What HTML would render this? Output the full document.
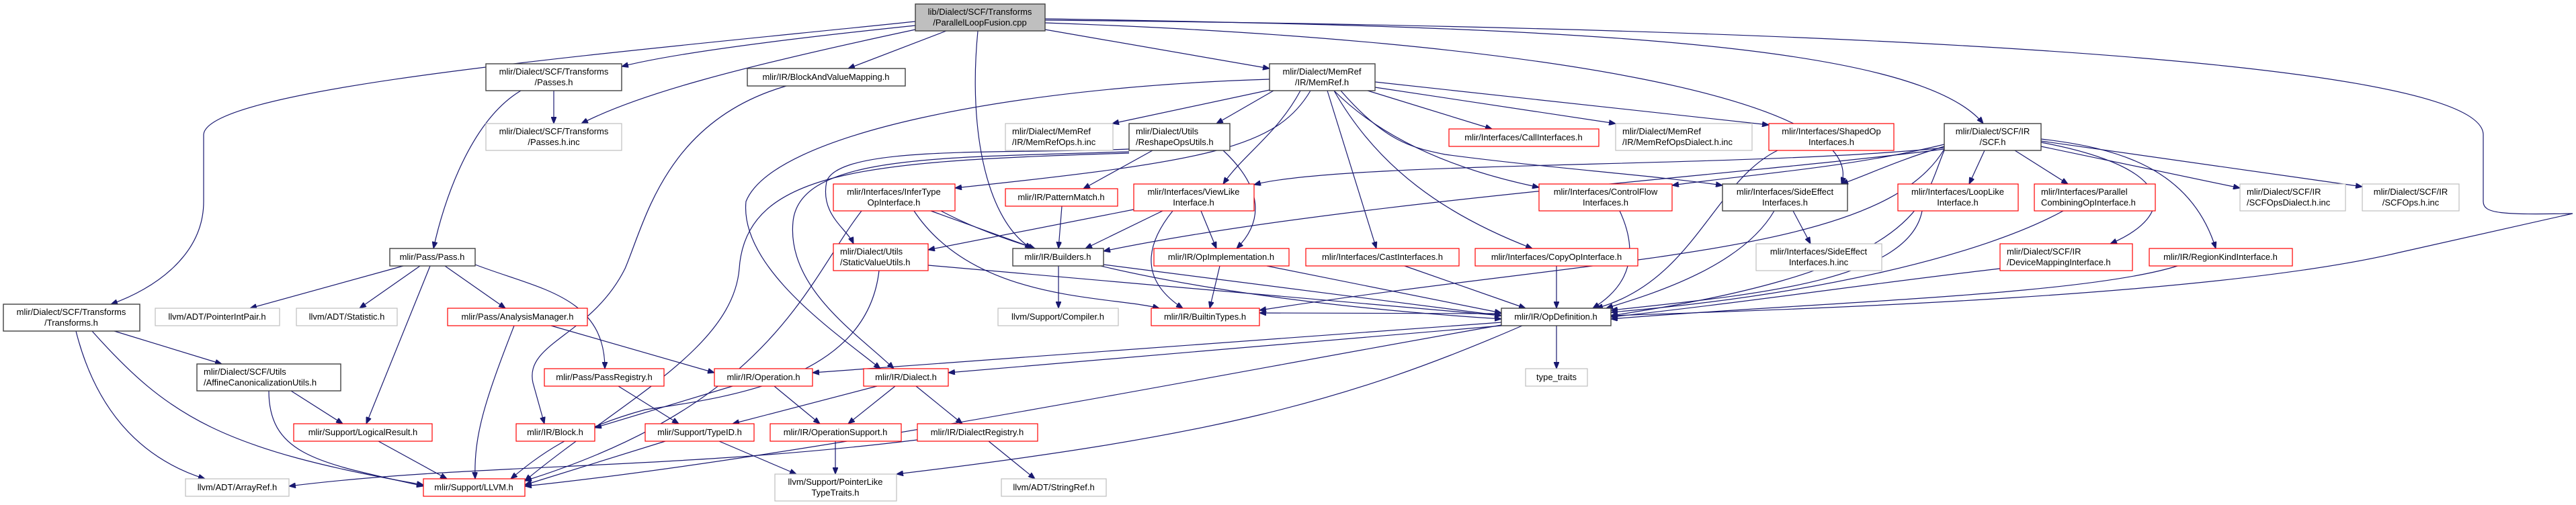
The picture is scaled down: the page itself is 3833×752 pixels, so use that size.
<!DOCTYPE html>
<html><head><meta charset="utf-8"><style>
html,body{margin:0;padding:0;background:#fff;}
svg{display:block;}
text{font-family:"Liberation Sans",sans-serif;font-size:13px;fill:#000;}
.e{fill:none;stroke:#191970;stroke-width:1.2;marker-end:url(#a);}
.b{fill:#fff;stroke:#404040;stroke-width:1.4;}
.r{fill:#fff;stroke:#ff0000;stroke-width:1.2;}
.g{fill:#fff;stroke:#bfbfbf;stroke-width:1.2;}
</style></head><body>
<svg width="3833" height="752" viewBox="0 0 3833 752" xmlns="http://www.w3.org/2000/svg">
<defs><marker id="a" markerUnits="userSpaceOnUse" markerWidth="11" markerHeight="8" refX="10" refY="4" orient="auto"><path d="M0,0 L10,4 L0,8 z" fill="#191970" stroke="#191970"/></marker></defs>
<g>
<path class="e" d="M1362,32 C900,80 310,130 303,200 L303,300 C303,380 230,430 165,453"/>
<path class="e" d="M1362,38 C1150,60 1000,80 925,99"/>
<path class="e" d="M1362,44 C1100,100 950,140 865,184"/>
<path class="e" d="M1408,46 L1262,102"/>
<path class="e" d="M1455,46 C1440,200 1470,330 1535,370"/>
<path class="e" d="M1555,44 L1889,102"/>
<path class="e" d="M1555,28 C2300,40 2850,60 2951,184"/>
<path class="e" d="M1555,34 C2300,60 2780,150 2740,274"/>
<path class="e" d="M1555,30 C2600,40 3690,80 3695,200 L3695,300 C3695,318 3720,320 3828,318 L3570,376 C3300,440 2700,460 2397,470"/>
<path class="e" d="M775,135 C700,180 660,300 645,370"/>
<path class="e" d="M824,135 L824,184"/>
<path class="e" d="M1170,128 C990,180 960,330 930,400 C880,500 780,510 793,570 L810,631"/>
<path class="e" d="M600,396 L372,459"/>
<path class="e" d="M625,396 L535,459"/>
<path class="e" d="M640,396 L545,631"/>
<path class="e" d="M662,396 L752,459"/>
<path class="e" d="M707,394 C800,430 900,440 900,549"/>
<path class="e" d="M170,493 L330,542"/>
<path class="e" d="M113,493 C140,600 200,680 305,713"/>
<path class="e" d="M137,493 C250,620 330,670 630,722"/>
<path class="e" d="M433,582 L510,631"/>
<path class="e" d="M400,582 C400,680 480,690 630,724"/>
<path class="e" d="M563,657 L665,713"/>
<path class="e" d="M765,485 C720,600 705,650 707,713"/>
<path class="e" d="M820,485 L1063,555"/>
<path class="e" d="M920,575 L1010,631"/>
<path class="e" d="M1090,575 L885,637"/>
<path class="e" d="M1152,575 L1220,631"/>
<path class="e" d="M1305,575 L1090,631"/>
<path class="e" d="M1332,575 L1262,631"/>
<path class="e" d="M1363,575 L1432,631"/>
<path class="e" d="M990,657 L781,722"/>
<path class="e" d="M1070,657 L1185,706"/>
<path class="e" d="M1243,657 L1243,706"/>
<path class="e" d="M1365,655 C1000,700 700,690 430,724"/>
<path class="e" d="M1471,657 L1540,713"/>
<path class="e" d="M1308,403 C1290,560 1100,590 960,610 C850,640 800,680 760,713"/>
<path class="e" d="M1381,395 L2234,470"/>
<path class="e" d="M1385,314 L1540,370"/>
<path class="e" d="M1400,314 C1600,420 2000,460 2234,475"/>
<path class="e" d="M1360,314 C1450,450 1650,440 1725,459"/>
<path class="e" d="M1282,314 C1200,420 1150,600 781,716"/>
<path class="e" d="M1715,224 L1612,281"/>
<path class="e" d="M1820,224 C1880,280 1880,330 1840,370"/>
<path class="e" d="M1680,222 C1500,230 1250,215 1230,270 C1220,320 1260,340 1270,363"/>
<path class="e" d="M1680,226 C1400,235 1190,230 1180,330 C1170,430 1280,500 1330,549"/>
<path class="e" d="M1680,228 C1300,240 1110,250 1100,400 C1090,520 920,600 781,716"/>
<path class="e" d="M1580,307 L1575,370"/>
<path class="e" d="M1687,312 L1381,372"/>
<path class="e" d="M1730,314 L1615,370"/>
<path class="e" d="M1787,314 L1810,370"/>
<path class="e" d="M1745,314 C1700,370 1700,420 1760,459"/>
<path class="e" d="M1815,396 L1800,459"/>
<path class="e" d="M1885,396 L2234,466"/>
<path class="e" d="M1575,396 L1575,459"/>
<path class="e" d="M1642,394 L2234,470"/>
<path class="e" d="M2234,480 L1209,555"/>
<path class="e" d="M2234,485 L1411,555"/>
<path class="e" d="M2265,485 C2000,600 1800,650 1334,706"/>
<path class="e" d="M2234,484 C1800,560 1200,680 781,724"/>
<path class="e" d="M2316,485 L2316,549"/>
<path class="e" d="M2234,467 L1874,466"/>
<path class="e" d="M1889,134 L1655,184"/>
<path class="e" d="M1895,135 L1810,184"/>
<path class="e" d="M1935,135 C1900,200 1850,230 1820,274"/>
<path class="e" d="M1950,135 C1900,220 1800,240 1421,280"/>
<path class="e" d="M1889,118 C1500,130 1150,200 1110,300 C1100,400 1250,500 1310,549"/>
<path class="e" d="M2035,135 L2220,192"/>
<path class="e" d="M2046,130 L2404,184"/>
<path class="e" d="M2046,122 L2632,186"/>
<path class="e" d="M1985,135 C2050,200 2150,250 2290,279"/>
<path class="e" d="M1995,135 C2060,210 2100,220 2150,230 C2300,250 2450,260 2563,276"/>
<path class="e" d="M1975,135 L2048,370"/>
<path class="e" d="M1985,135 C2050,250 2150,320 2280,370"/>
<path class="e" d="M2953,224 L2930,274"/>
<path class="e" d="M2998,224 L3077,274"/>
<path class="e" d="M3037,218 L3333,280"/>
<path class="e" d="M3037,210 L3515,278"/>
<path class="e" d="M3037,212 C3240,250 3240,320 3140,363"/>
<path class="e" d="M3037,207 C3150,220 3260,250 3297,370"/>
<path class="e" d="M2893,215 C2750,250 2600,260 2488,276"/>
<path class="e" d="M2893,218 C2820,240 2780,260 2740,274"/>
<path class="e" d="M2893,220 C2600,250 2000,240 1866,275"/>
<path class="e" d="M2893,222 C2600,260 2000,300 1642,374"/>
<path class="e" d="M2893,224 C2860,300 2870,400 2397,470"/>
<path class="e" d="M2893,222 C2800,380 2400,380 1874,462"/>
<path class="e" d="M2090,396 L2270,459"/>
<path class="e" d="M2316,396 L2316,459"/>
<path class="e" d="M2410,314 C2450,400 2400,440 2370,459"/>
<path class="e" d="M2640,314 C2590,400 2450,440 2390,459"/>
<path class="e" d="M2668,314 L2694,363"/>
<path class="e" d="M2645,224 C2550,270 2520,420 2375,459"/>
<path class="e" d="M2860,314 C2840,420 2600,440 2397,462"/>
<path class="e" d="M3070,314 C2950,380 2700,440 2397,465"/>
<path class="e" d="M2976,400 C2800,420 2600,450 2397,472"/>
<path class="e" d="M3240,396 C3100,440 2700,450 2397,475"/>
</g>
<g>
<rect x="1362" y="6" width="193" height="40" fill="#bfbfbf" stroke="#404040" stroke-width="1.4"/>
<text x="1458" y="22" text-anchor="middle">lib/Dialect/SCF/Transforms</text><text x="1458" y="38" text-anchor="middle">/ParallelLoopFusion.cpp</text>
<rect class="b" x="723" y="95" width="202" height="40"/><text x="824" y="111" text-anchor="middle">mlir/Dialect/SCF/Transforms</text><text x="824" y="127" text-anchor="middle">/Passes.h</text>
<rect class="g" x="723" y="184" width="202" height="40"/><text x="824" y="200" text-anchor="middle">mlir/Dialect/SCF/Transforms</text><text x="824" y="216" text-anchor="middle">/Passes.h.inc</text>
<rect class="b" x="1112" y="102" width="235" height="26"/><text x="1229" y="119" text-anchor="middle">mlir/IR/BlockAndValueMapping.h</text>
<rect class="b" x="1889" y="95" width="157" height="40"/><text x="1967" y="111" text-anchor="middle">mlir/Dialect/MemRef</text><text x="1967" y="127" text-anchor="middle">/IR/MemRef.h</text>
<rect class="b" x="2893" y="184" width="144" height="40"/><text x="2965" y="200" text-anchor="middle">mlir/Dialect/SCF/IR</text><text x="2965" y="216" text-anchor="middle">/SCF.h</text>
<rect class="b" x="5" y="453" width="203" height="40"/><text x="106" y="469" text-anchor="middle">mlir/Dialect/SCF/Transforms</text><text x="106" y="485" text-anchor="middle">/Transforms.h</text>
<rect class="b" x="580" y="370" width="127" height="26"/><text x="643" y="387" text-anchor="middle">mlir/Pass/Pass.h</text>
<rect class="g" x="231" y="459" width="185" height="26"/><text x="323" y="476" text-anchor="middle">llvm/ADT/PointerIntPair.h</text>
<rect class="g" x="441" y="459" width="150" height="26"/><text x="516" y="476" text-anchor="middle">llvm/ADT/Statistic.h</text>
<rect class="r" x="666" y="459" width="208" height="26"/><text x="770" y="476" text-anchor="middle">mlir/Pass/AnalysisManager.h</text>
<rect class="b" x="293" y="542" width="214" height="40"/><text x="303" y="558">mlir/Dialect/SCF/Utils</text><text x="303" y="574">/AffineCanonicalizationUtils.h</text>
<rect class="r" x="810" y="549" width="178" height="26"/><text x="899" y="566" text-anchor="middle">mlir/Pass/PassRegistry.h</text>
<rect class="r" x="437" y="631" width="206" height="26"/><text x="540" y="648" text-anchor="middle">mlir/Support/LogicalResult.h</text>
<rect class="r" x="768" y="631" width="117" height="26"/><text x="826" y="648" text-anchor="middle">mlir/IR/Block.h</text>
<rect class="r" x="630" y="713" width="151" height="26"/><text x="705" y="730" text-anchor="middle">mlir/Support/LLVM.h</text>
<rect class="g" x="276" y="713" width="154" height="26"/><text x="353" y="730" text-anchor="middle">llvm/ADT/ArrayRef.h</text>
<rect class="g" x="1496" y="184" width="160" height="40"/><text x="1506" y="200">mlir/Dialect/MemRef</text><text x="1506" y="216">/IR/MemRefOps.h.inc</text>
<rect class="b" x="1680" y="184" width="150" height="40"/><text x="1690" y="200">mlir/Dialect/Utils</text><text x="1690" y="216">/ReshapeOpsUtils.h</text>
<rect class="r" x="1240" y="274" width="181" height="40"/><text x="1330" y="290" text-anchor="middle">mlir/Interfaces/InferType</text><text x="1330" y="306" text-anchor="middle">OpInterface.h</text>
<rect class="r" x="1496" y="281" width="167" height="26"/><text x="1579" y="298" text-anchor="middle">mlir/IR/PatternMatch.h</text>
<rect class="r" x="1687" y="274" width="179" height="40"/><text x="1776" y="290" text-anchor="middle">mlir/Interfaces/ViewLike</text><text x="1776" y="306" text-anchor="middle">Interface.h</text>
<rect class="r" x="1240" y="363" width="141" height="40"/><text x="1250" y="379">mlir/Dialect/Utils</text><text x="1250" y="395">/StaticValueUtils.h</text>
<rect class="b" x="1507" y="370" width="135" height="26"/><text x="1574" y="387" text-anchor="middle">mlir/IR/Builders.h</text>
<rect class="r" x="1717" y="370" width="201" height="26"/><text x="1817" y="387" text-anchor="middle">mlir/IR/OpImplementation.h</text>
<rect class="g" x="1485" y="459" width="179" height="26"/><text x="1574" y="476" text-anchor="middle">llvm/Support/Compiler.h</text>
<rect class="r" x="1713" y="459" width="161" height="26"/><text x="1793" y="476" text-anchor="middle">mlir/IR/BuiltinTypes.h</text>
<rect class="r" x="1063" y="549" width="146" height="26"/><text x="1136" y="566" text-anchor="middle">mlir/IR/Operation.h</text>
<rect class="r" x="1285" y="549" width="126" height="26"/><text x="1348" y="566" text-anchor="middle">mlir/IR/Dialect.h</text>
<rect class="r" x="960" y="631" width="162" height="26"/><text x="1041" y="648" text-anchor="middle">mlir/Support/TypeID.h</text>
<rect class="r" x="1146" y="631" width="195" height="26"/><text x="1243" y="648" text-anchor="middle">mlir/IR/OperationSupport.h</text>
<rect class="r" x="1365" y="631" width="179" height="26"/><text x="1454" y="648" text-anchor="middle">mlir/IR/DialectRegistry.h</text>
<rect class="g" x="1153" y="706" width="181" height="40"/><text x="1243" y="722" text-anchor="middle">llvm/Support/PointerLike</text><text x="1243" y="738" text-anchor="middle">TypeTraits.h</text>
<rect class="g" x="1490" y="713" width="156" height="26"/><text x="1568" y="730" text-anchor="middle">llvm/ADT/StringRef.h</text>
<rect class="r" x="2156" y="192" width="223" height="26"/><text x="2267" y="209" text-anchor="middle">mlir/Interfaces/CallInterfaces.h</text>
<rect class="g" x="2404" y="184" width="203" height="40"/><text x="2414" y="200">mlir/Dialect/MemRef</text><text x="2414" y="216">/IR/MemRefOpsDialect.h.inc</text>
<rect class="r" x="2632" y="184" width="186" height="40"/><text x="2725" y="200" text-anchor="middle">mlir/Interfaces/ShapedOp</text><text x="2725" y="216" text-anchor="middle">Interfaces.h</text>
<rect class="r" x="2290" y="274" width="198" height="40"/><text x="2389" y="290" text-anchor="middle">mlir/Interfaces/ControlFlow</text><text x="2389" y="306" text-anchor="middle">Interfaces.h</text>
<rect class="b" x="2563" y="274" width="186" height="40"/><text x="2656" y="290" text-anchor="middle">mlir/Interfaces/SideEffect</text><text x="2656" y="306" text-anchor="middle">Interfaces.h</text>
<rect class="g" x="2613" y="363" width="187" height="40"/><text x="2706" y="379" text-anchor="middle">mlir/Interfaces/SideEffect</text><text x="2706" y="395" text-anchor="middle">Interfaces.h.inc</text>
<rect class="r" x="2824" y="274" width="179" height="40"/><text x="2913" y="290" text-anchor="middle">mlir/Interfaces/LoopLike</text><text x="2913" y="306" text-anchor="middle">Interface.h</text>
<rect class="r" x="3027" y="274" width="180" height="40"/><text x="3037" y="290">mlir/Interfaces/Parallel</text><text x="3037" y="306">CombiningOpInterface.h</text>
<rect class="g" x="3333" y="274" width="157" height="40"/><text x="3343" y="290">mlir/Dialect/SCF/IR</text><text x="3343" y="306">/SCFOpsDialect.h.inc</text>
<rect class="g" x="3515" y="274" width="144" height="40"/><text x="3587" y="290" text-anchor="middle">mlir/Dialect/SCF/IR</text><text x="3587" y="306" text-anchor="middle">/SCFOps.h.inc</text>
<rect class="r" x="1943" y="370" width="228" height="26"/><text x="2057" y="387" text-anchor="middle">mlir/Interfaces/CastInterfaces.h</text>
<rect class="r" x="2195" y="370" width="242" height="26"/><text x="2316" y="387" text-anchor="middle">mlir/Interfaces/CopyOpInterface.h</text>
<rect class="b" x="2234" y="459" width="163" height="26"/><text x="2315" y="476" text-anchor="middle">mlir/IR/OpDefinition.h</text>
<rect class="g" x="2270" y="549" width="92" height="26"/><text x="2316" y="566" text-anchor="middle">type_traits</text>
<rect class="r" x="2976" y="363" width="197" height="40"/><text x="2986" y="379">mlir/Dialect/SCF/IR</text><text x="2986" y="395">/DeviceMappingInterface.h</text>
<rect class="r" x="3198" y="370" width="213" height="26"/><text x="3304" y="387" text-anchor="middle">mlir/IR/RegionKindInterface.h</text>
</g>
</svg>
</body></html>
